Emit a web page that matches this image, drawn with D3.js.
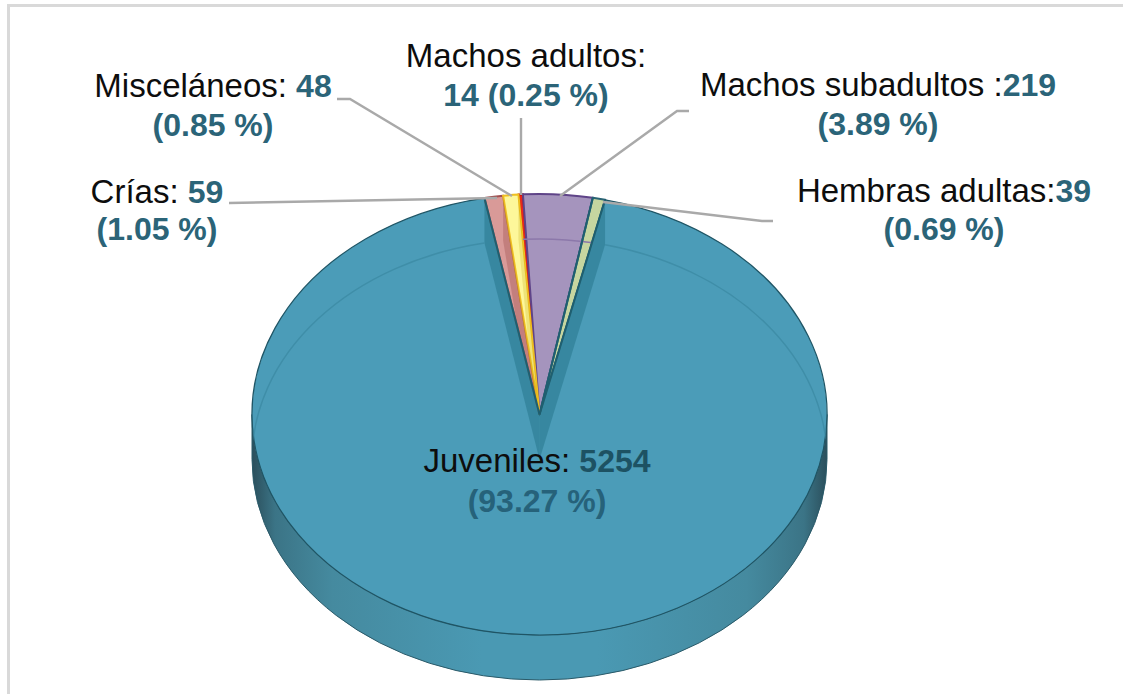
<!DOCTYPE html>
<html>
<head>
<meta charset="utf-8">
<script src="https://cdn.jsdelivr.net/npm/d3@7/dist/d3.min.js"></script>
<style>
html,body{margin:0;padding:0;background:#fff}
text{font-family:"Liberation Sans",Arial,sans-serif;font-size:33px}
text.fig,tspan.fig{font-size:32px;font-weight:bold}
</style>
</head>
<body>
<script>
// Stage composition of the sampled population, clockwise from the top of the pie
const categories = ["Machos adultos", "Machos subadultos", "Hembras adultas", "Juveniles", "Crías", "Misceláneos"];
const counts = [14, 219, 39, 5254, 59, 48];
const percents = ["0.25", "3.89", "0.69", "93.27", "1.05", "0.85"];
const fills = ["#e8281c", "#a594bd", "#c6d6a0", "#4b9cb8", "#d99a98", "#fdf79a"];
const rims = ["#c00000", "#5f4488", "#2a6474", "#1f5565", "#a05050", "#f0c020"];

const W = 1123, H = 694;
const cx = 539.5, cy = 414.5, rx = 287.5, ry = 220.5, depth = 45;
const startDeg = -4.2;

const svg = d3.select("body").append("svg").attr("width", W).attr("height", H).style("display", "block");
const defs = svg.append("defs");

// Side wall shading: dark at both ends of the rim, body colour toward the front
const grad = defs.append("linearGradient").attr("id", "wall").attr("gradientUnits", "userSpaceOnUse")
  .attr("x1", cx - rx).attr("x2", cx + rx).attr("y1", 0).attr("y2", 0);
[[0, "#2b4f5c"], [0.04, "#3b7486"], [0.14, "#458a9f"], [0.4, "#4a99b3"], [0.6, "#4a99b3"], [0.86, "#458a9f"], [0.96, "#3b7486"], [1, "#2b4f5c"]]
  .forEach(([o, c]) => grad.append("stop").attr("offset", o).attr("stop-color", c));

// Frame: only the top and left sides fall inside the page
svg.append("rect").attr("x", 8.5).attr("y", 5.5).attr("width", 1200).attr("height", 800)
  .attr("fill", "#fff").attr("stroke", "#d9d9d9").attr("stroke-width", 3);

const pie = d3.pie().sort(null)
  .startAngle(startDeg * Math.PI / 180)
  .endAngle((startDeg + 360) * Math.PI / 180);
const slices = pie(counts);
const arc = d3.arc().innerRadius(0).outerRadius(rx);
const px = a => cx + rx * Math.sin(a);
const py = a => cy - ry * Math.cos(a);
// Quad of the cut face below a radius, dropped by the disc depth
const cutWall = a => `M${cx},${cy} L${px(a)},${py(a)} L${px(a)},${py(a) + depth} L${cx},${cy + depth} Z`;

// Front wall: lower half of the rim extruded downward
const wallPath = `M${cx - rx},${cy} A${rx},${ry} 0 0 0 ${cx + rx},${cy} L${cx + rx},${cy + depth} A${rx},${ry} 0 0 1 ${cx - rx},${cy + depth} Z`;
svg.append("path").attr("d", wallPath).attr("fill", "url(#wall)").attr("stroke", "#2a5a69").attr("stroke-width", 1);

// Pie faces, flattened into an ellipse
const faceTransform = `translate(${cx},${cy}) scale(1,${ry / rx})`;
const faces = svg.append("g").attr("transform", faceTransform);
faces.selectAll("path").data(slices).join("path")
  .attr("d", arc)
  .attr("fill", (d, i) => fills[i])
  .attr("stroke", (d, i) => rims[i])
  .attr("stroke-width", (d, i) => i === 3 ? 1.2 : 2)
  .attr("vector-effect", "non-scaling-stroke");

// The disc is translucent: back rim of the lower face and the cut walls show through
const jv = slices[3];
defs.append("clipPath").attr("id", "face").append("ellipse")
  .attr("cx", cx).attr("cy", cy).attr("rx", rx).attr("ry", ry);
const under = svg.append("g").attr("clip-path", "url(#face)");
[jv.startAngle, jv.endAngle].forEach(a => {
  under.append("path").attr("d", cutWall(a)).attr("fill", "#2f7f96").attr("fill-opacity", 0.7);
});
under.append("path")
  .attr("d", `M${cx - rx},${cy + depth} A${rx},${ry} 0 0 1 ${px(jv.endAngle)},${py(jv.endAngle) + depth}`)
  .attr("fill", "none").attr("stroke", "#3f8ea8").attr("stroke-width", 1.5);
under.append("path")
  .attr("d", `M${px(jv.startAngle)},${py(jv.startAngle) + depth} A${rx},${ry} 0 0 1 ${cx + rx},${cy + depth}`)
  .attr("fill", "none").attr("stroke", "#3f8ea8").attr("stroke-width", 1.5);
const a0 = slices[1].startAngle, a1 = slices[1].endAngle;
under.append("path")
  .attr("d", `M${px(a0)},${py(a0) + depth} A${rx},${ry} 0 0 1 ${px(a1)},${py(a1) + depth}`)
  .attr("fill", "none").attr("stroke", "#8c78aa").attr("stroke-width", 1.5);

// Shaded fold inside the two narrow slices left of the red one
[4, 5].forEach(i => {
  const clipId = "slice" + i;
  defs.append("clipPath").attr("id", clipId).append("path")
    .attr("transform", faceTransform).attr("d", arc(slices[i]));
  svg.append("path").attr("clip-path", `url(#${clipId})`).attr("d", cutWall(slices[i].endAngle))
    .attr("fill", i === 4 ? "#8c3a3a" : "#c9b020").attr("fill-opacity", 0.28);
});

// Dark seams along the radii bounding the green and pink slices
[slices[1].endAngle, slices[2].endAngle, slices[4].startAngle].forEach(a => {
  svg.append("path").attr("d", d3.line()([[cx, cy], [px(a), py(a)]]))
    .attr("fill", "none").attr("stroke", "#1f5f70").attr("stroke-width", 2);
});

// Leader lines
const leaders = [
  [[229, 203], [497, 198]],
  [[337, 99], [350, 99], [512, 196]],
  [[521, 118], [521, 195]],
  [[689, 111], [677, 111], [560, 196]],
  [[773, 221], [762, 221], [603, 202]]
];
const line = d3.line();
svg.selectAll("path.leader").data(leaders).join("path").attr("class", "leader")
  .attr("d", line).attr("fill", "none").attr("stroke", "#a9a9a9").attr("stroke-width", 2.4);

// Labels: plain name, bold teal figures
const numCol = "#2b6478";
const labels = [
  { x: 526, y1: 67, y2: 106, a: "Machos adultos:", b: "", c: "14 (0.25 %)" },
  { x: 878, y1: 96, y2: 135, a: "Machos subadultos :", b: "219", c: "(3.89 %)" },
  { x: 944, y1: 202, y2: 240, a: "Hembras adultas:", b: "39", c: "(0.69 %)" },
  { x: 537, y1: 472, y2: 512, a: "Juveniles: ", b: "5254", c: "(93.27 %)", dark: true },
  { x: 157, y1: 203, y2: 240, a: "Crías: ", b: "59", c: "(1.05 %)" },
  { x: 213, y1: 97, y2: 136, a: "Misceláneos: ", b: "48", c: "(0.85 %)" }
];
const lab = svg.append("g");
labels.forEach(l => {
  const t = lab.append("text").attr("x", l.x).attr("y", l.y1).attr("text-anchor", "middle").style("white-space", "pre");
  t.append("tspan").attr("fill", "#0d0d0d").text(l.a);
  if (l.b) t.append("tspan").attr("class", "fig").attr("fill", l.dark ? "#1d5263" : numCol).text(l.b);
  lab.append("text").attr("class", "fig").attr("x", l.x).attr("y", l.y2).attr("text-anchor", "middle")
    .attr("fill", l.dark ? "#26627a" : numCol).text(l.c);
});
</script>
</body>
</html>
